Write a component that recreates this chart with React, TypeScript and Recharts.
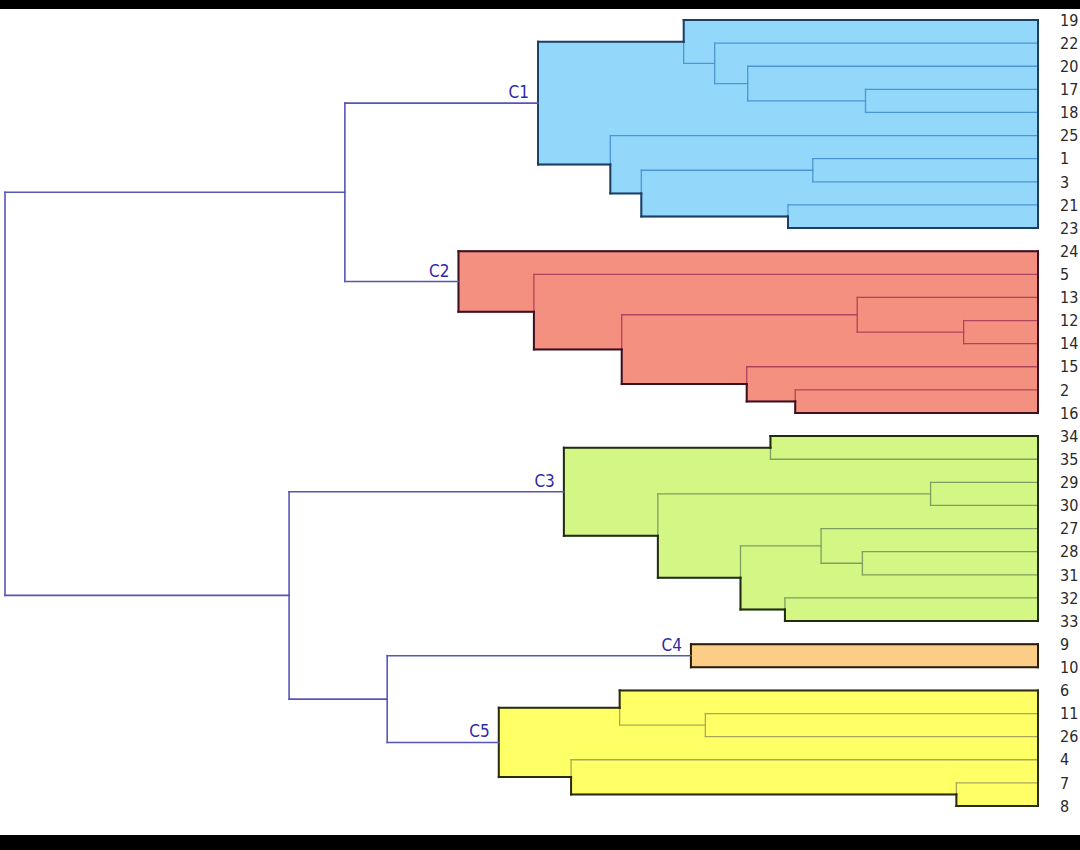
import React from "react"
import { ComposedChart, XAxis, YAxis, ReferenceArea, ReferenceLine, ReferenceDot } from "recharts"

// leaves, top to bottom
const leafLabels = [
  "19", "22", "20", "17", "18", "25", "1", "3", "21", "23",
  "24", "5", "13", "12", "14", "15", "2", "16",
  "34", "35", "29", "30", "27", "28", "31", "32", "33",
  "9", "10",
  "6", "11", "26", "4", "7", "8",
]

// [upper child, lower child, merge distance]; "#n" = n-th merge of the same list
type Merge = [string, string, number]

const c1Merges: Merge[] = [
  ["17", "18", 16.7],
  ["20", "#0", 28.1],
  ["22", "#1", 31.3],
  ["19", "#2", 34.3],
  ["1", "3", 21.8],
  ["21", "23", 24.2],
  ["#4", "#5", 38.4],
  ["25", "#6", 41.4],
  ["#3", "#7", 48.4],
]
const c2Merges: Merge[] = [
  ["12", "14", 7.2],
  ["13", "#0", 17.5],
  ["2", "16", 23.5],
  ["15", "#2", 28.2],
  ["#1", "#3", 40.3],
  ["5", "#4", 48.8],
  ["24", "#5", 56.1],
]
const c3Merges: Merge[] = [
  ["34", "35", 25.9],
  ["29", "30", 10.4],
  ["28", "31", 17.0],
  ["27", "#2", 21.0],
  ["32", "33", 24.5],
  ["#3", "#4", 28.8],
  ["#1", "#5", 36.8],
  ["#0", "#6", 45.9],
]
const c4Merges: Merge[] = [["9", "10", 33.6]]
const c5Merges: Merge[] = [
  ["11", "26", 32.2],
  ["6", "#0", 40.5],
  ["7", "8", 7.9],
  ["4", "#2", 45.2],
  ["#1", "#3", 52.2],
]
const upperMerges: Merge[] = [
  ["C1", "C2", 67.1],
  ["C4", "C5", 63.0],
  ["C3", "#1", 72.5],
  ["#0", "#2", 100],
]

const clusterNames = ["C1", "C2", "C3", "C4", "C5"]
const clusterMerges = [c1Merges, c2Merges, c3Merges, c4Merges, c5Merges]
const clusterFill = ["#93d7fb", "#f4907f", "#d3f685", "#fbcd87", "#ffff66"]
const clusterInner = ["#4a97d6", "#b3425e", "#7f9f60", "#8a6a40", "#a8a85c"]
const clusterEdge = ["#1d3f63", "#3b1020", "#1f2d0f", "#2b1c0a", "#2b2b10"]
const linkColor = "#5656b6"
const labelColor = "#2b2ba8"
const font = "'DejaVu Sans Condensed', 'Liberation Sans', sans-serif"

type Node = { h: number; y: number; a?: Node; b?: Node }
type Seg = { x1: number; y1: number; x2: number; y2: number }

function build(merges: Merge[], lookup: (k: string) => Node): Node[] {
  const made: Node[] = []
  const get = (k: string) => (k.startsWith("#") ? made[+k.slice(1)] : lookup(k))
  merges.forEach(([p, q, h]) => {
    const a = get(p)
    const b = get(q)
    made.push({ h, y: (a.y + b.y) / 2, a, b })
  })
  return made
}

const leafNode = (k: string): Node => ({ h: 0, y: leafLabels.indexOf(k) })

function nodeLinks(n: Node, out: Seg[]) {
  if (!n.a || !n.b) return
  out.push({ x1: n.h, y1: n.a.y, x2: n.h, y2: n.b.y })
  out.push({ x1: n.h, y1: n.a.y, x2: n.a.h, y2: n.a.y })
  out.push({ x1: n.h, y1: n.b.y, x2: n.b.h, y2: n.b.y })
}

// outer edge of a cluster: follow the top-most (or bottom-most) branch down to its leaf
function outline(n: Node, side: "a" | "b", out: Seg[]) {
  const c = n[side]
  if (!c) return
  out.push({ x1: n.h, y1: c.y, x2: c.h, y2: c.y })
  const g = c[side]
  if (g) {
    out.push({ x1: c.h, y1: c.y, x2: c.h, y2: g.y })
    outline(c, side, out)
  }
}

const clusters = clusterMerges.map((m, ci) => {
  const nodes = build(m, leafNode)
  const root = nodes[nodes.length - 1]
  const inner: Seg[] = []
  nodes.forEach((n) => nodeLinks(n, inner))
  const edge: Seg[] = [{ x1: root.h, y1: root.a!.y, x2: root.h, y2: root.b!.y }]
  outline(root, "a", edge)
  outline(root, "b", edge)
  const leafIdx = m.flatMap(([p, q]) => [p, q]).filter((k) => !k.startsWith("#")).map((k) => leafLabels.indexOf(k))
  edge.push({ x1: 0, y1: Math.min(...leafIdx), x2: 0, y2: Math.max(...leafIdx) })
  return { name: clusterNames[ci], nodes, root, inner, edge }
})

const upperNodes = build(upperMerges, (k) => clusters[clusterNames.indexOf(k)].root)
const upperLinks: Seg[] = []
upperNodes.forEach((n) => nodeLinks(n, upperLinks))

const leafTicks = leafLabels.map((_, i) => i)
const leafRows = leafLabels.map((_, i) => ({ h: 0, y: i }))

const seg = (s: Seg, key: string, stroke: string, w: number) => (
  <ReferenceLine
    key={key}
    segment={[{ x: s.x1, y: s.y1 }, { x: s.x2, y: s.y2 }]}
    stroke={stroke}
    strokeWidth={w}
    strokeLinecap="square"
  />
)

export default function App() {
  return (
    <div style={{ position: "absolute", left: 0, top: 0, width: 1080, height: 850, background: "#000" }}>
      <div style={{ position: "absolute", left: 0, top: 9, width: 1080, height: 826, background: "#fff" }} />
      <div style={{ position: "absolute", left: 0, top: 0 }}>
        <ComposedChart
          width={1080}
          height={850}
          data={leafRows}
          margin={{ top: 8.44, right: 0, bottom: 32.44, left: 5 }}
        >
          <XAxis type="number" dataKey="h" domain={[0, 100]} reversed hide />
          <YAxis
            type="number"
            dataKey="y"
            orientation="right"
            domain={[-0.5, 34.5]}
            reversed
            ticks={leafTicks}
            interval={0}
            tickFormatter={(i: number) => leafLabels[i]}
            axisLine={false}
            tickLine={false}
            tickMargin={16}
            width={42}
            tick={{ fill: "#2a2a2a", fontSize: 16, fontFamily: font }}
          />
          {clusters.flatMap((c, ci) =>
            c.nodes.map((n, i) => (
              <ReferenceArea
                key={`f${ci}-${i}`}
                x1={n.h}
                x2={0}
                y1={n.a!.y}
                y2={n.b!.y}
                fill={clusterFill[ci]}
                fillOpacity={1}
                stroke="none"
              />
            ))
          )}
          {clusters.flatMap((c, ci) => c.inner.map((s, i) => seg(s, `i${ci}-${i}`, clusterInner[ci], 1.3)))}
          {clusters.flatMap((c, ci) => c.edge.map((s, i) => seg(s, `e${ci}-${i}`, clusterEdge[ci], 2)))}
          {upperLinks.map((s, i) => seg(s, `u${i}`, linkColor, 1.6))}
          {clusters.map((c) => (
            <ReferenceDot
              key={`l${c.name}`}
              x={c.root.h}
              y={c.root.y}
              r={0}
              shape={(p: any) => (
                <text x={p.cx - 9} y={p.cy - 5} textAnchor="end" fill={labelColor} fontSize={17} fontFamily={font}>
                  {c.name}
                </text>
              )}
            />
          ))}
        </ComposedChart>
      </div>
    </div>
  )
}
